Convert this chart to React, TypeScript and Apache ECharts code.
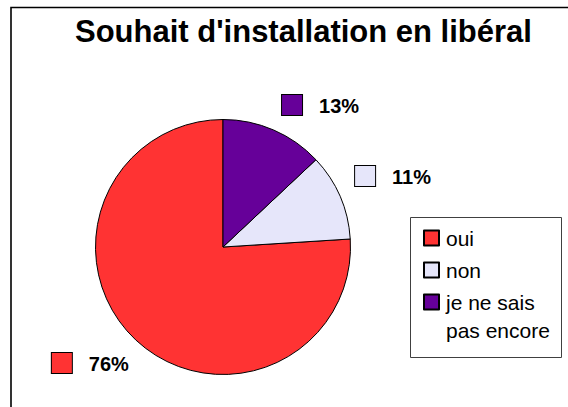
import React, { useEffect, useRef } from "react";
import * as echarts from "echarts";

const categories = ["oui", "non", "je ne sais\npas encore"];
const values = [76, 11, 13];
const percentLabels = ["76%", "11%", "13%"];
const colors = ["#FF3333", "#E6E6FA", "#660099"];
// label placement tweaks (style only)
const labelLineLengths = [31.6, 51.3, 27.2];
const labelLineLengths2 = [-19.8, -37, -7.4];

export default function App() {
  const ref = useRef<HTMLDivElement>(null);
  useEffect(() => {
    if (!ref.current) return;
    const chart = echarts.init(ref.current, null, { renderer: "svg" });
    const font = "'Liberation Sans', Arial, sans-serif";
    const data = categories.map((name, i) => ({
      name,
      value: values[i],
      itemStyle: { color: colors[i] },
      labelLine: { show: false, length: labelLineLengths[i], length2: labelLineLengths2[i] },
      label: {
        formatter: "{sq|}{pct|" + percentLabels[i] + "}",
        rich: {
          sq: {
            width: 20,
            height: 20,
            backgroundColor: colors[i],
            borderColor: "#000",
            borderWidth: 1,
          },
          pct: {
            fontFamily: font,
            fontSize: 20,
            fontWeight: "bold",
            color: "#000",
            padding: [2, 0, 0, 17],
          },
        },
      },
    }));
    // each legend entry gets a symmetric 3-line block so its first line aligns with the icon
    const legendFormatter = (name: string) => {
      const lines = name.split("\n");
      return lines.length > 1 ? "\n" + name : "\n" + name + "\n";
    };
    chart.setOption({
      animation: false,
      backgroundColor: "#fff",
      title: {
        text: "Souhait d'installation en libéral",
        left: 70,
        top: 11,
        textStyle: {
          fontFamily: font,
          fontSize: 31,
          fontWeight: "bold",
          color: "#000",
        },
      },
      graphic: [
        {
          type: "rect",
          shape: { x: 11, y: 7.5, width: 800, height: 600 },
          style: { fill: "none", stroke: "#000", lineWidth: 1.6 },
          silent: true,
        },
        {
          type: "rect",
          shape: { x: 410.5, y: 217.5, width: 151, height: 140 },
          style: { fill: "none", stroke: "#404040", lineWidth: 1 },
          silent: true,
        },
      ],
      legend: {
        orient: "vertical",
        left: 423,
        top: 196,
        padding: 0,
        itemGap: -52,
        itemWidth: 15,
        itemHeight: 15,
        icon: "rect",
        formatter: legendFormatter,
        textStyle: {
          fontFamily: font,
          fontSize: 21,
          lineHeight: 28,
          color: "#000",
          padding: [0, 0, 0, 2],
        },
        data: categories,
      },
      series: [
        {
          type: "pie",
          center: [223, 247],
          radius: 127.5,
          startAngle: 90,
          clockwise: false,
          avoidLabelOverlap: false,
          itemStyle: { borderColor: "#000", borderWidth: 1 },
          label: { show: true, position: "outside", distanceToLabelLine: 5 },
          labelLine: { show: false },
          emphasis: { disabled: true },
          data,
        },
      ],
    });
    return () => chart.dispose();
  }, []);
  return (
    <div
      ref={ref}
      style={{ position: "fixed", left: 0, top: 0, width: 568, height: 407 }}
    />
  );
}
